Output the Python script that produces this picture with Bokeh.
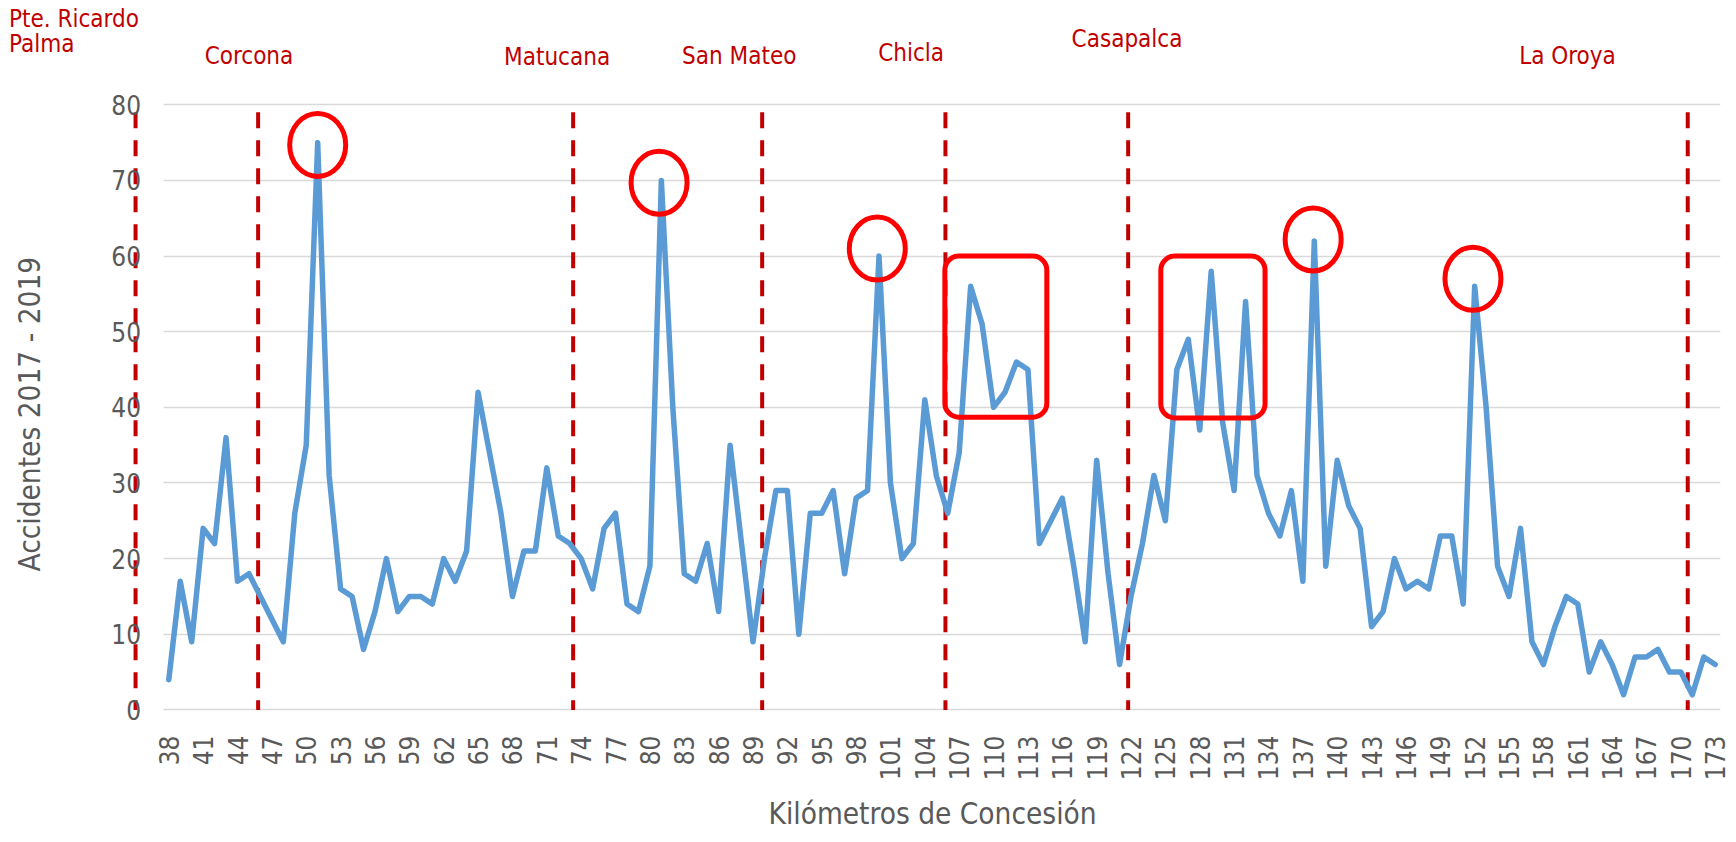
from math import pi
from bokeh.plotting import figure
from bokeh.models import Range1d, FixedTicker, Label, BoxAnnotation, Title
from bokeh.embed import file_html
from bokeh.resources import INLINE

# ---- data -------------------------------------------------------------
kms = list(range(38, 174))
accidents = [
    4, 17, 9, 24, 22, 36, 17, 18, 15, 12,      # 38-47
    9, 26, 35, 75, 31, 16, 15, 8, 13, 20,      # 48-57
    13, 15, 15, 14, 20, 17, 21, 42, 34, 26,    # 58-67
    15, 21, 21, 32, 23, 22, 20, 16, 24, 26,    # 68-77
    14, 13, 19, 70, 40, 18, 17, 22, 13, 35,    # 78-87
    22, 9, 20, 29, 29, 10, 26, 26, 29, 18,     # 88-97
    28, 29, 60, 30, 20, 22, 41, 31, 26, 34,    # 98-107
    56, 51, 40, 42, 46, 45, 22, 25, 28, 19,    # 108-117
    9, 33, 18, 6, 15, 22, 31, 25, 45, 49,      # 118-127
    37, 58, 38, 29, 54, 31, 26, 23, 29, 17,    # 128-137
    62, 19, 33, 27, 24, 11, 13, 20, 16, 17,    # 138-147
    16, 23, 23, 14, 56, 40, 19, 15, 24, 9,     # 148-157
    6, 11, 15, 14, 5, 9, 6, 2, 7, 7,           # 158-167
    8, 5, 5, 2, 7, 6,                          # 168-173
]
x_ticks = list(range(38, 174, 3))
y_ticks = list(range(0, 81, 10))
y_title = "Accidentes 2017 - 2019"
x_title = "Kilómetros de Concesión"

# section boundaries (km) and town names
boundary_km = [35.1, 45.8, 73.3, 89.8, 105.8, 121.75, 170.6]
towns = ["Corcona", "Matucana", "San Mateo", "Chicla", "Casapalca", "La Oroya"]
town_km = [45.0, 71.9, 87.8, 102.8, 121.65, 160.1]
town_level = [86.5, 86.3, 86.5, 86.9, 88.7, 86.5]
start_town = ["Pte. Ricardo", "Palma"]
start_km = 24.05
start_level = [91.3, 88.1]

# highlighted peaks (circles) and clusters (boxes)
peak_km = [51, 80.8, 99.85, 137.9, 151.85]
peak_level = [74.7, 69.7, 61.0, 62.2, 57.0]
cluster_left = [105.75, 124.6]
cluster_right = [114.65, 133.7]
cluster_top = [60.0, 60.0]
cluster_bottom = [38.7, 38.6]

GREY = "#595959"
RED_TXT = "#C00000"
FONT = "DejaVu Sans Condensed"

p = figure(width=1736, height=842,
           x_range=Range1d(23.31, 173.46), y_range=Range1d(-1.4, 93.79),
           output_backend="svg", toolbar_location=None,
           min_border_left=0, min_border_right=16,
           min_border_top=0, min_border_bottom=120)
p.outline_line_color = None
p.background_fill_color = "white"
p.border_fill_color = "white"

# grid
p.xgrid.visible = False
p.ygrid.ticker = FixedTicker(ticks=y_ticks)
p.ygrid.grid_line_color = "#D9D9D9"
p.ygrid.grid_line_width = 1.5
try:
    p.ygrid.cross_bounds = (37.5, 173.5)
except Exception:
    pass

# x axis
p.xaxis.ticker = FixedTicker(ticks=x_ticks)
p.xaxis.major_label_orientation = pi / 2
p.xaxis.axis_line_color = None
p.xaxis.major_tick_line_color = None
p.xaxis.minor_tick_line_color = None
p.xaxis.major_tick_out = 0
p.xaxis.minor_tick_out = 0
p.xaxis.major_label_standoff = 15
p.xaxis.major_label_text_font = FONT
p.xaxis.major_label_text_font_size = "26px"
p.xaxis.major_label_text_color = GREY

p.add_layout(Title(text=x_title, align="left", offset=768, standoff=23,
                   text_font=FONT, text_font_size="29.5px",
                   text_font_style="normal", text_color=GREY), "below")

# y axis drawn at the start of the category band
p.yaxis.ticker = FixedTicker(ticks=y_ticks)
p.yaxis.fixed_location = 37.5
p.yaxis.axis_line_color = None
p.yaxis.major_tick_line_color = None
p.yaxis.minor_tick_line_color = None
p.yaxis.major_tick_out = 0
p.yaxis.minor_tick_out = 0
p.yaxis.major_label_standoff = 22
p.yaxis.major_label_text_font = FONT
p.yaxis.major_label_text_font_size = "26px"
p.yaxis.major_label_text_color = GREY

# y title
p.add_layout(Label(x=25.9, y=39.1, text=y_title, angle=pi / 2,
                   text_align="center", text_baseline="middle",
                   text_font=FONT, text_font_size="29.5px", text_color=GREY))

# section boundaries
p.segment(x0=boundary_km, y0=[79] * len(boundary_km),
          x1=boundary_km, y1=[0] * len(boundary_km),
          line_color="#C00000", line_width=4, line_dash="16 12")

# data line
p.line(kms, accidents, line_color="#5B9BD5", line_width=5.5,
       line_join="round", line_cap="round")

# highlights
p.ellipse(x=peak_km, y=peak_level, width=56, height=63,
          width_units="screen", height_units="screen",
          fill_alpha=0, line_color="#FF0000", line_width=5)
for l, r, t, b in zip(cluster_left, cluster_right, cluster_top, cluster_bottom):
    p.add_layout(BoxAnnotation(left=l, right=r, top=t, bottom=b,
                               fill_alpha=0, line_color="#FF0000",
                               line_alpha=1.0, line_width=5,
                               border_radius=14))

# town labels
for name, km, lev in zip(towns, town_km, town_level):
    p.add_layout(Label(x=km, y=lev, text=name, text_align="center",
                       text_baseline="alphabetic", text_font=FONT,
                       text_font_size="24px", text_color=RED_TXT))
for name, lev in zip(start_town, start_level):
    p.add_layout(Label(x=start_km, y=lev, text=name, text_align="left",
                       text_baseline="alphabetic", text_font=FONT,
                       text_font_size="24px", text_color=RED_TXT))

open("out.html", "w").write(file_html(p, INLINE))
